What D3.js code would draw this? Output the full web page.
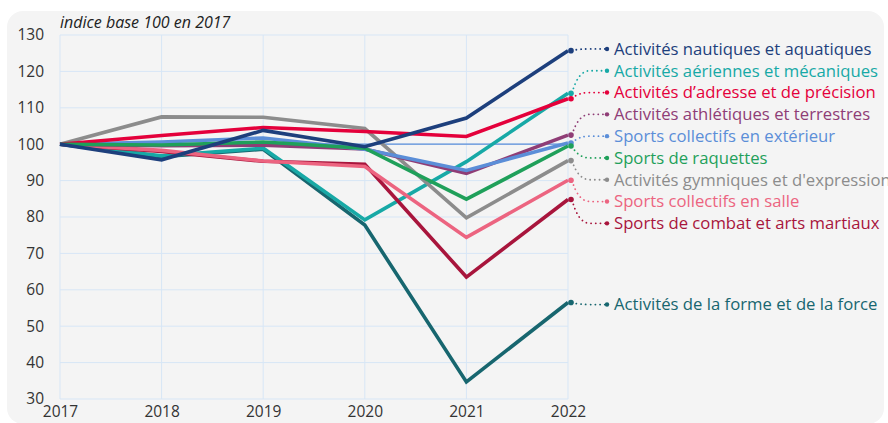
<!DOCTYPE html>
<html>
<head>
<meta charset="utf-8">
<script src="https://cdn.jsdelivr.net/npm/d3@7"></script>
<style>
  body { margin: 0; background: #ffffff; }
  svg { display: block; font-family: "Open Sans", "Noto Sans", sans-serif; }
</style>
</head>
<body>
<div id="graph_container"></div>
<script>
// indice base 100 en 2017
var years      = [2017, 2018, 2019, 2020, 2021, 2022];
var yTicks     = [30, 40, 50, 60, 70, 80, 90, 100, 110, 120, 130];

var nautiques   = [100, 95.7, 103.8, 99.3, 107.2, 125.7];
var aeriennes   = [100, 96.8, 98.9, 79.2, 95.2, 114.0];
var adresse     = [100, 102.4, 104.6, 103.5, 102.1, 112.5];
var athletiques = [100, 99.6, 99.7, 98.7, 92.0, 102.5];
var exterieur   = [100, 100.6, 101.7, 98.6, 92.8, 100.3];
var raquettes   = [100, 99.8, 100.6, 98.9, 84.9, 99.5];
var gymniques   = [100, 107.5, 107.4, 104.3, 79.8, 95.5];
var salle       = [100, 98.3, 95.4, 93.9, 74.4, 90.1];
var combat      = [100, 98.0, 95.3, 94.5, 63.5, 84.8];
var forme       = [100, 96.6, 98.6, 77.8, 34.7, 56.5];

var names = [
    "Activités nautiques et aquatiques",
    "Activités aériennes et mécaniques",
    "Activités d’adresse et de précision",
    "Activités athlétiques et terrestres",
    "Sports collectifs en extérieur",
    "Sports de raquettes",
    "Activités gymniques et d'expression",
    "Sports collectifs en salle",
    "Sports de combat et arts martiaux",
    "Activités de la forme et de la force"
];
var values = [nautiques, aeriennes, adresse, athletiques, exterieur, raquettes, gymniques, salle, combat, forme];
var colors = ["#1d3f7c", "#17a9a6", "#e4003b", "#8f3d76", "#5b8ed8", "#1fa05a", "#8c8c8c", "#ec6480", "#a8153c", "#17666f"];
// drawing order, bottom first
var drawOrder = [9, 1, 8, 7, 6, 3, 4, 2, 5, 0];

var width  = 888;
var height = 423;
var svg = d3.select("#graph_container").append("svg")
    .attr("width", width).attr("height", height);

// panel
svg.append("rect")
    .attr("x", 7).attr("y", 11)
    .attr("width", 877).attr("height", 413)
    .attr("rx", 16).attr("ry", 16)
    .attr("fill", "#f4f4f4");

var x = d3.scaleLinear().domain([2017, 2022]).range([60, 568]);
var y = d3.scaleLinear().domain([30, 130]).range([399, 35]);

// grid
svg.append("g")
    .selectAll("line.h").data(yTicks).enter().append("line")
    .attr("x1", x(2017)).attr("x2", x(2022))
    .attr("y1", function(d) { return y(d); })
    .attr("y2", function(d) { return y(d); })
    .attr("stroke", "#d7e6f6").attr("stroke-width", 1);

svg.append("g")
    .selectAll("line.v").data(years).enter().append("line")
    .attr("x1", function(d) { return x(d); })
    .attr("x2", function(d) { return x(d); })
    .attr("y1", y(130)).attr("y2", y(30))
    .attr("stroke", "#d7e6f6").attr("stroke-width", 1);

// axes
var yAxis = svg.append("g")
    .attr("transform", "translate(" + (x(2017) - 16) + ",0)")
    .call(d3.axisLeft(y).tickValues(yTicks).tickSize(0).tickPadding(0));
yAxis.select(".domain").remove();
yAxis.selectAll("text").attr("font-size", 15.5).attr("fill", "#333").attr("font-family", "Open Sans");

var xAxis = svg.append("g")
    .attr("transform", "translate(0," + (y(30) + 7) + ")")
    .call(d3.axisBottom(x).tickValues(years).tickFormat(d3.format("d")).tickSize(0).tickPadding(0));
xAxis.select(".domain").remove();
xAxis.selectAll("text").attr("font-size", 15.5).attr("fill", "#333").attr("font-family", "Open Sans");

// subtitle
svg.append("text")
    .attr("x", 60).attr("y", 28)
    .attr("font-size", 16).attr("font-style", "italic")
    .attr("fill", "#222")
    .text("indice base 100 en 2017");

// base 100 reference line
svg.append("line")
    .attr("x1", x(2017)).attr("x2", x(2022))
    .attr("y1", y(100)).attr("y2", y(100))
    .attr("stroke", "#5b8ed8").attr("stroke-width", 1.3);

var line = d3.line()
    .x(function(d, i) { return x(years[i]); })
    .y(function(d) { return y(d); });

var g = svg.append("g");
drawOrder.forEach(function(k) {
    g.append("path")
        .attr("d", line(values[k]))
        .attr("fill", "none")
        .attr("stroke", colors[k])
        .attr("stroke-width", 3.6)
        .attr("stroke-linejoin", "miter");
});

// label layout: push labels apart around their end values
var gap = 21.8;
var items = values.map(function(v, i) { return { i: i, target: y(v[v.length - 1]) }; });
items.sort(function(a, b) { return a.target - b.target; });
var clusters = items.map(function(it) { return { members: [it], sum: it.target }; });
function place(c) {
    var n = c.members.length;
    var mid = c.sum / n;
    c.top = mid - (n - 1) * gap / 2;
    c.bottom = c.top + (n - 1) * gap;
}
clusters.forEach(place);
var merged = true;
while (merged) {
    merged = false;
    for (var j = 0; j < clusters.length - 1; j++) {
        if (clusters[j + 1].top - clusters[j].bottom < gap) {
            clusters[j].members = clusters[j].members.concat(clusters[j + 1].members);
            clusters[j].sum += clusters[j + 1].sum;
            clusters.splice(j + 1, 1);
            place(clusters[j]);
            merged = true;
            break;
        }
    }
}
var labelY = [];
clusters.forEach(function(c) {
    c.members.forEach(function(m, idx) { labelY[m.i] = c.top + idx * gap + 2; });
});

var x0 = x(2022) + 4;
var x1 = 607;
var lab = svg.append("g");
values.forEach(function(v, i) {
    var ye = y(v[v.length - 1]);
    var yl = labelY[i];
    lab.append("path")
        .attr("d", "M" + x0 + "," + ye + " Q" + (x0 + 6) + "," + yl + " " + (x0 + 18) + "," + yl + " L" + x1 + "," + yl)
        .attr("fill", "none")
        .attr("stroke", colors[i])
        .attr("stroke-width", 1.8)
        .attr("stroke-linecap", "round")
        .attr("stroke-dasharray", "0.1,4.6");
    lab.append("circle").attr("cx", x(2022) + 3).attr("cy", ye).attr("r", 2.8).attr("fill", colors[i]);
    lab.append("circle").attr("cx", x1).attr("cy", yl).attr("r", 2.2).attr("fill", colors[i]);
    lab.append("text")
        .attr("x", 614).attr("y", yl)
        .attr("dy", "0.35em")
        .attr("font-size", 16.7)
        .attr("font-weight", 500)
        .attr("fill", colors[i])
        .text(names[i]);
});
</script>
</body>
</html>
